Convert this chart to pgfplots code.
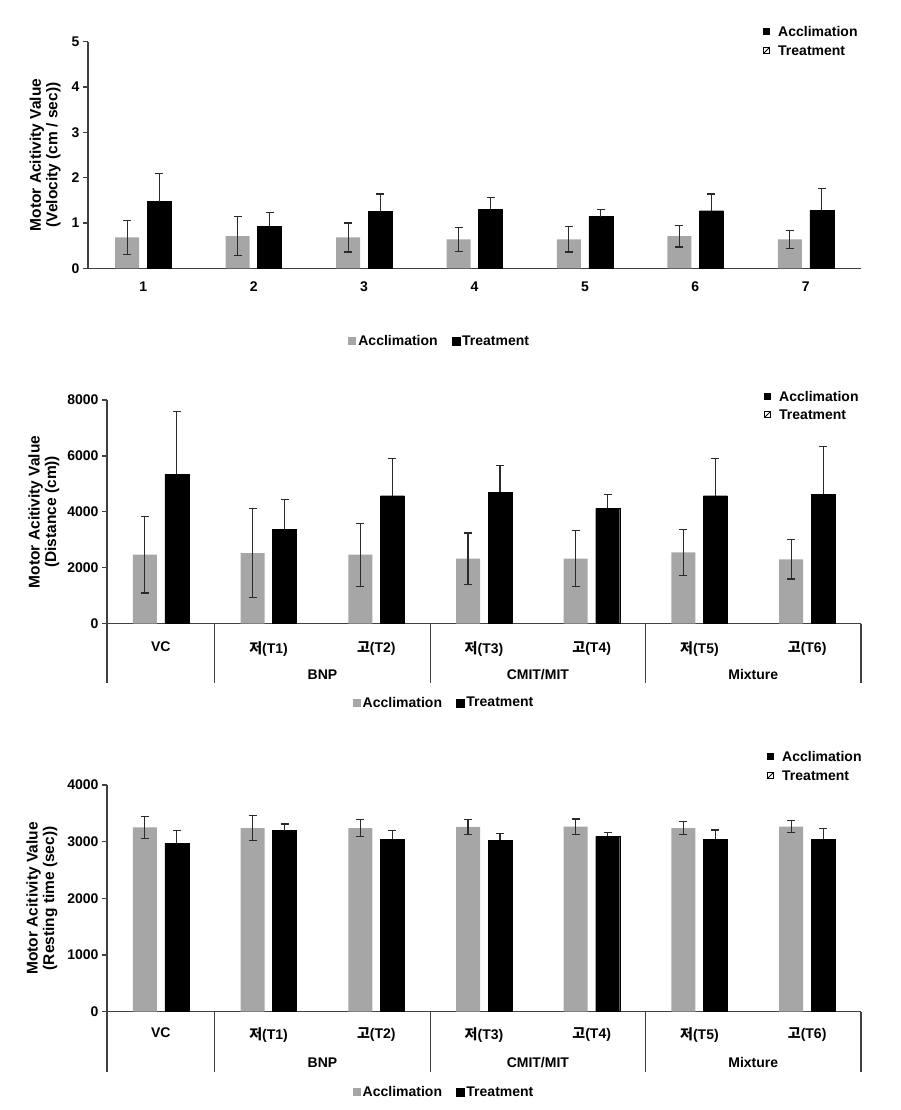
\documentclass[border=0pt]{standalone}
\usepackage{fontspec}
\setmainfont{Liberation Sans}
\newfontfamily\kr{Noto Sans CJK KR}
\usepackage{pgfplots}
\pgfplotsset{compat=1.18}
\usepackage{pgfplotstable}
\definecolor{barGray}{HTML}{A6A6A6}
\definecolor{axGray}{HTML}{404040}
\definecolor{errGray}{HTML}{2A2A2A}
\newcommand{\fs}{\fontsize{14}{16.5}\selectfont\bfseries}
\newcommand{\fl}{\fontsize{15.5}{16.5}\selectfont\bfseries}

\pgfplotstableread{
c a ae t te
0 0.68 0.38 1.47 0.62
1 0.71 0.43 0.93 0.30
2 0.68 0.32 1.26 0.38
3 0.64 0.26 1.30 0.27
4 0.64 0.28 1.14 0.15
5 0.71 0.24 1.27 0.37
6 0.64 0.20 1.28 0.48
}\dataA
\pgfplotstableread{
c a ae t te
0 2467 1370 5340 2240
1 2527 1590 3373 1070
2 2467 1130 4577 1320
3 2324 920 4697 965
4 2324 1000 4124 500
5 2551 830 4577 1320
6 2300 700 4625 1715
}\dataB
\pgfplotstableread{
c a ae t te
0 3253 190 2970 235
1 3241 220 3194 117
2 3241 150 3047 153
3 3259 130 3029 112
4 3265 135 3094 70
5 3241 115 3047 159
6 3265 105 3041 194
}\dataC

\pgfplotsset{
 legend image code/.code={\fill[#1] (0pt,-4pt) rectangle (8pt,4pt);},
 mystyle/.style={
  scale only axis,
  axis x line=bottom, axis y line=left,
  axis line style={-, axGray, line width=1.2pt},
  xmin=-0.5, xmax=6.5, ymin=0,
  xtick={0,...,6},
  x tick style={draw=none},
  y tick style={axGray, line width=1.2pt},
  tick align=outside, major tick length=5pt,
  tick label style={font=\fs},
  /pgf/number format/assume math mode=true,
  /pgf/number format/1000 sep={},
  clip=false,
  bar width=24pt,
  legend style={draw=none, fill=none, font=\fs, legend columns=2, anchor=center,
    /tikz/every even column/.append style={column sep=12pt}},
  ylabel style={font=\fl, align=center, anchor=center, rotate=0},
 },
 errs/.style 2 args={error bars/.cd, y dir=#1, y explicit,
   error bar style={errGray, line width=1.1pt, xshift=#2},
   error mark options={rotate=90, mark size=4pt, errGray, line width=1.1pt}},
}

\begin{document}
\begin{tikzpicture}
\path[use as bounding box] (0pt,0pt) rectangle (900pt,1110pt);

% ---------- Panel 1 ----------
\begin{axis}[mystyle, at={(88pt,841.7pt)}, anchor=south west,
  width=773pt, height=226.6pt, ymax=5, ytick={0,1,2,3,4,5},
  xticklabels={1,2,3,4,5,6,7},
  xticklabel style={yshift=-5pt},
  ylabel={Motor Acitivity Value\\(Velocity (cm / sec))},
  ylabel style={at={(axis description cs:-0.0556,0.5)}},
  legend style={at={(0.455,-0.321)}}]
\addplot[ybar, fill=barGray, draw=none, bar shift=-16pt, errs={both}{-16pt}] table[x=c, y=a, y error=ae] {\dataA};
\addplot[ybar, fill=black, draw=black, bar shift=16pt, errs={plus}{16pt}] table[x=c, y=t, y error=te] {\dataA};
\legend{Acclimation, Treatment}
\end{axis}

% ---------- Panel 2 ----------
\begin{axis}[mystyle, at={(107pt,486.3pt)}, anchor=south west,
  width=754pt, height=223.7pt, ymax=8000, ytick={0,2000,4000,6000,8000},
  xticklabels={VC,{\kr 저}(T1),{\kr 고}(T2),{\kr 저}(T3),{\kr 고}(T4),{\kr 저}(T5),{\kr 고}(T6)},
  xticklabel style={yshift=-9pt},
  ylabel={Motor Acitivity Value\\(Distance (cm))},
  ylabel style={at={(axis description cs:-0.0836,0.5)}},
  legend style={at={(0.447,-0.354)}}]
\addplot[ybar, fill=barGray, draw=none, bar shift=-16pt, errs={both}{-16pt}] table[x=c, y=a, y error=ae] {\dataB};
\addplot[ybar, fill=black, draw=black, bar shift=16pt, errs={plus}{16pt}] table[x=c, y=t, y error=te] {\dataB};
\legend{Acclimation, Treatment}
\pgfplotsinvokeforeach{-0.5,0.5,2.5,4.5,6.5}{\draw[axGray, line width=1.2pt] (axis cs:#1,0) -- ++(0pt,-59pt);}
\node[font=\fs] at (axis cs:1.5,0) [yshift=-51pt] {BNP};
\node[font=\fs] at (axis cs:3.5,0) [yshift=-51pt] {CMIT/MIT};
\node[font=\fs] at (axis cs:5.5,0) [yshift=-51pt] {Mixture};
\end{axis}

% ---------- Panel 3 ----------
\begin{axis}[mystyle, at={(107pt,98.3pt)}, anchor=south west,
  width=754pt, height=226.7pt, ymax=4000, ytick={0,1000,2000,3000,4000},
  xticklabels={VC,{\kr 저}(T1),{\kr 고}(T2),{\kr 저}(T3),{\kr 고}(T4),{\kr 저}(T5),{\kr 고}(T6)},
  xticklabel style={yshift=-7pt},
  ylabel={Motor Acitivity Value\\(Resting time (sec))},
  ylabel style={at={(axis description cs:-0.0862,0.5)}},
  legend style={at={(0.447,-0.354)}}]
\addplot[ybar, fill=barGray, draw=none, bar shift=-16pt, errs={both}{-16pt}] table[x=c, y=a, y error=ae] {\dataC};
\addplot[ybar, fill=black, draw=black, bar shift=16pt, errs={plus}{16pt}] table[x=c, y=t, y error=te] {\dataC};
\legend{Acclimation, Treatment}
\pgfplotsinvokeforeach{-0.5,0.5,2.5,4.5,6.5}{\draw[axGray, line width=1.2pt] (axis cs:#1,0) -- ++(0pt,-60pt);}
\node[font=\fs] at (axis cs:1.5,0) [yshift=-51pt] {BNP};
\node[font=\fs] at (axis cs:3.5,0) [yshift=-51pt] {CMIT/MIT};
\node[font=\fs] at (axis cs:5.5,0) [yshift=-51pt] {Mixture};
\end{axis}

% ---------- top-right legends ----------
\foreach \ya/\yb/\xs in {1078/1059/766, 713/695/767, 353/334/770}{
  \fill[black] (\xs pt-3pt,\ya pt-3pt) rectangle ++(6.5pt,6.5pt);
  \node[anchor=west, inner sep=0pt, font=\fs] at (\xs pt+12pt,\ya pt) {Acclimation};
  \draw[black, line width=1pt] (\xs pt-2.5pt,\yb pt-2.5pt) rectangle ++(5.5pt,5.5pt);
  \draw[black, line width=0.8pt] (\xs pt-2.5pt,\yb pt-2.5pt) -- ++(5.5pt,5.5pt);
  \node[anchor=west, inner sep=0pt, font=\fs] at (\xs pt+12pt,\yb pt) {Treatment};
}
\end{tikzpicture}
\end{document}
